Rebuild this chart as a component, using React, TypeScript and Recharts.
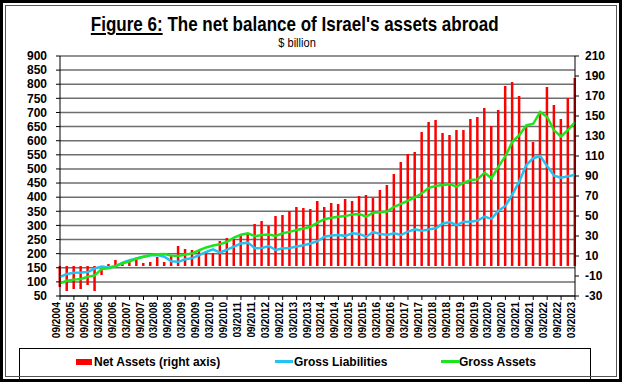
import { ComposedChart, Bar, Line, XAxis, YAxis, CartesianGrid } from 'recharts'

const FONT = "'Liberation Sans', Arial, sans-serif"

// quarterly observations, 09/2004 .. 03/2023
const periods = [
  '09/2004', '12/2004',
  '03/2005', '06/2005', '09/2005', '12/2005',
  '03/2006', '06/2006', '09/2006', '12/2006',
  '03/2007', '06/2007', '09/2007', '12/2007',
  '03/2008', '06/2008', '09/2008', '12/2008',
  '03/2009', '06/2009', '09/2009', '12/2009',
  '03/2010', '06/2010', '09/2010', '12/2010',
  '03/2011', '06/2011', '09/2011', '12/2011',
  '03/2012', '06/2012', '09/2012', '12/2012',
  '03/2013', '06/2013', '09/2013', '12/2013',
  '03/2014', '06/2014', '09/2014', '12/2014',
  '03/2015', '06/2015', '09/2015', '12/2015',
  '03/2016', '06/2016', '09/2016', '12/2016',
  '03/2017', '06/2017', '09/2017', '12/2017',
  '03/2018', '06/2018', '09/2018', '12/2018',
  '03/2019', '06/2019', '09/2019', '12/2019',
  '03/2020', '06/2020', '09/2020', '12/2020',
  '03/2021', '06/2021', '09/2021', '12/2021',
  '03/2022', '06/2022', '09/2022', '12/2022',
  '03/2023',
]

const tickLabels = [
  '09/2004', '03/2005', '09/2005', '03/2006', '09/2006', '03/2007', '09/2007', '03/2008',
  '09/2008', '03/2009', '09/2009', '03/2010', '09/2010', '03/2011', '09/2011', '03/2012',
  '09/2012', '03/2013', '09/2013', '03/2014', '09/2014', '03/2015', '09/2015', '03/2016',
  '09/2016', '03/2017', '09/2017', '03/2018', '09/2018', '03/2019', '09/2019', '03/2020',
  '09/2020', '03/2021', '09/2021', '03/2022', '09/2022', '03/2023',
]

// $ billion
const netAssets = [
  -21, -25, -23, -23, -19, -25, -9, 2, 6, 2,
  4, 6, 3, 4, 9, 4, 11, 20, 17, 16,
  15, 14, 13, 25, 28, 27, 30, 32, 42, 45,
  40, 50, 51, 55, 59, 58, 57, 65, 59, 63,
  62, 67, 65, 70, 71, 68, 76, 81, 92, 104,
  112, 114, 134, 144, 146, 133, 131, 136, 136, 147,
  149, 158, 140, 156, 180, 184, 170, 139, 124, 153,
  179, 161, 147, 168, 188,
]

const grossLiabilities = [
  118, 128, 132, 133, 135, 148, 154, 151, 156, 168,
  177, 183, 189, 194, 195, 189, 173, 171, 180, 184,
  195, 206, 215, 204, 214, 225, 236, 239, 219, 220,
  227, 213, 219, 220, 225, 230, 236, 244, 260, 264,
  266, 263, 272, 270, 260, 276, 270, 266, 272, 266,
  278, 286, 281, 286, 290, 307, 312, 301, 313, 313,
  317, 331, 323, 352, 369, 410, 456, 514, 538, 546,
  510, 476, 469, 474, 479,
]

const grossAssets = [
  95, 104, 108, 110, 118, 123, 146, 148, 156, 166,
  172, 183, 189, 195, 198, 199, 193, 192, 197, 201,
  212, 222, 229, 233, 242, 257, 267, 272, 262, 266,
  268, 263, 272, 277, 284, 289, 295, 310, 322, 327,
  331, 333, 339, 340, 331, 345, 347, 349, 366, 376,
  388, 399, 414, 433, 440, 443, 446, 437, 451, 461,
  463, 487, 467, 508, 545, 596, 620, 654, 660, 702,
  684, 636, 615, 638, 666,
]

const leftTicks = [50, 100, 150, 200, 250, 300, 350, 400, 450, 500, 550, 600, 650, 700, 750, 800, 850, 900]
const rightTicks = [-30, -10, 10, 30, 50, 70, 90, 110, 130, 150, 170, 190, 210]

const data = periods.map((p, i) => ({
  i,
  period: p,
  net: netAssets[i],
  liab: grossLiabilities[i],
  assets: grossAssets[i],
}))
const xTicks = tickLabels.map((l) => periods.indexOf(l))

const XTick = ({ x, y, payload }: { x?: number; y?: number; payload?: { value: number } }) => (
  <text
    transform={`translate(${x},${y}) rotate(-90)`}
    textAnchor="end"
    fontSize={10}
    fontWeight="bold"
    fontFamily={FONT}
    fill="#000"
  >
    {periods[payload?.value ?? 0]}
  </text>
)

const axisTick = { fontSize: 12, fontWeight: 'bold', fill: '#000', fontFamily: FONT }

export default function App() {
  return (
    <div style={{ position: 'absolute', left: 0, top: 0, width: 622, height: 382, background: '#fff', fontFamily: FONT }}>
      <ComposedChart width={622} height={382} data={data} margin={{ top: 56, right: 5, bottom: 41, left: 5 }}>
        <CartesianGrid yAxisId="left" vertical={false} stroke="#6e6e6e" strokeWidth={1.5} />
        <XAxis
          type="number"
          dataKey="i"
          domain={[0, 74]}
          ticks={xTicks}
          interval={0}
          height={45}
          tick={<XTick />}
          tickSize={4}
          tickMargin={2}
          axisLine={{ stroke: '#000' }}
          tickLine={{ stroke: '#000' }}
        />
        <YAxis
          yAxisId="left"
          domain={[50, 900]}
          ticks={leftTicks}
          interval={0}
          width={55}
          tick={axisTick}
          tickSize={4}
          tickMargin={9}
          axisLine={{ stroke: '#000' }}
          tickLine={{ stroke: '#000' }}
        />
        <YAxis
          yAxisId="right"
          orientation="right"
          domain={[-30, 210]}
          ticks={rightTicks}
          interval={0}
          width={42}
          tick={axisTick}
          tickSize={4}
          tickMargin={6}
          axisLine={{ stroke: '#000' }}
          tickLine={{ stroke: '#000' }}
        />
        <Bar yAxisId="right" dataKey="net" fill="#ff0000" barSize={2.5} isAnimationActive={false} />
        <Line yAxisId="left" type="linear" dataKey="liab" stroke="#22c2f2" strokeWidth={2.5} dot={false} isAnimationActive={false} />
        <Line yAxisId="left" type="linear" dataKey="assets" stroke="#1ee41e" strokeWidth={2.5} dot={false} isAnimationActive={false} />
      </ComposedChart>

      {/* title */}
      <div style={{ position: 'absolute', left: 0, top: 13, width: 590, textAlign: 'center', lineHeight: '21px', fontSize: 21, fontWeight: 'bold', whiteSpace: 'nowrap' }}>
        <span style={{ display: 'inline-block', transform: 'scaleX(0.81)' }}>
          <span style={{ textDecoration: 'underline' }}>Figure 6:</span> The net balance of Israel's assets abroad
        </span>
      </div>
      <div style={{ position: 'absolute', left: 0, top: 36, width: 595, textAlign: 'center', lineHeight: '13px', fontSize: 13, whiteSpace: 'nowrap' }}>
        <span style={{ display: 'inline-block', transform: 'scaleX(0.85)' }}>$ billion</span>
      </div>

      {/* legend */}
      <div style={{ position: 'absolute', left: 19, top: 348, width: 570, height: 32, border: '1px solid #000' }} />
      <div style={{ position: 'absolute', left: 76, top: 359, width: 16, height: 6, background: '#ff0000' }} />
      <div style={{ position: 'absolute', left: 94, top: 356, fontSize: 12, lineHeight: '12px', fontWeight: 'bold', whiteSpace: 'nowrap' }}>Net Assets (right axis)</div>
      <div style={{ position: 'absolute', left: 275, top: 360, width: 18, height: 3, background: '#22c2f2' }} />
      <div style={{ position: 'absolute', left: 294, top: 356, fontSize: 12, lineHeight: '12px', fontWeight: 'bold', whiteSpace: 'nowrap' }}>Gross Liabilities</div>
      <div style={{ position: 'absolute', left: 441, top: 360, width: 18, height: 3, background: '#1ee41e' }} />
      <div style={{ position: 'absolute', left: 459, top: 356, fontSize: 12, lineHeight: '12px', fontWeight: 'bold', whiteSpace: 'nowrap' }}>Gross Assets</div>

      {/* frame */}
      <div style={{ position: 'absolute', left: 5, top: 5, width: 610, height: 370, border: '1px solid #555', pointerEvents: 'none' }} />
      <div style={{ position: 'absolute', left: 0, top: 0, width: 622, height: 382, border: '3px solid #000', boxSizing: 'border-box', pointerEvents: 'none' }} />
    </div>
  )
}
